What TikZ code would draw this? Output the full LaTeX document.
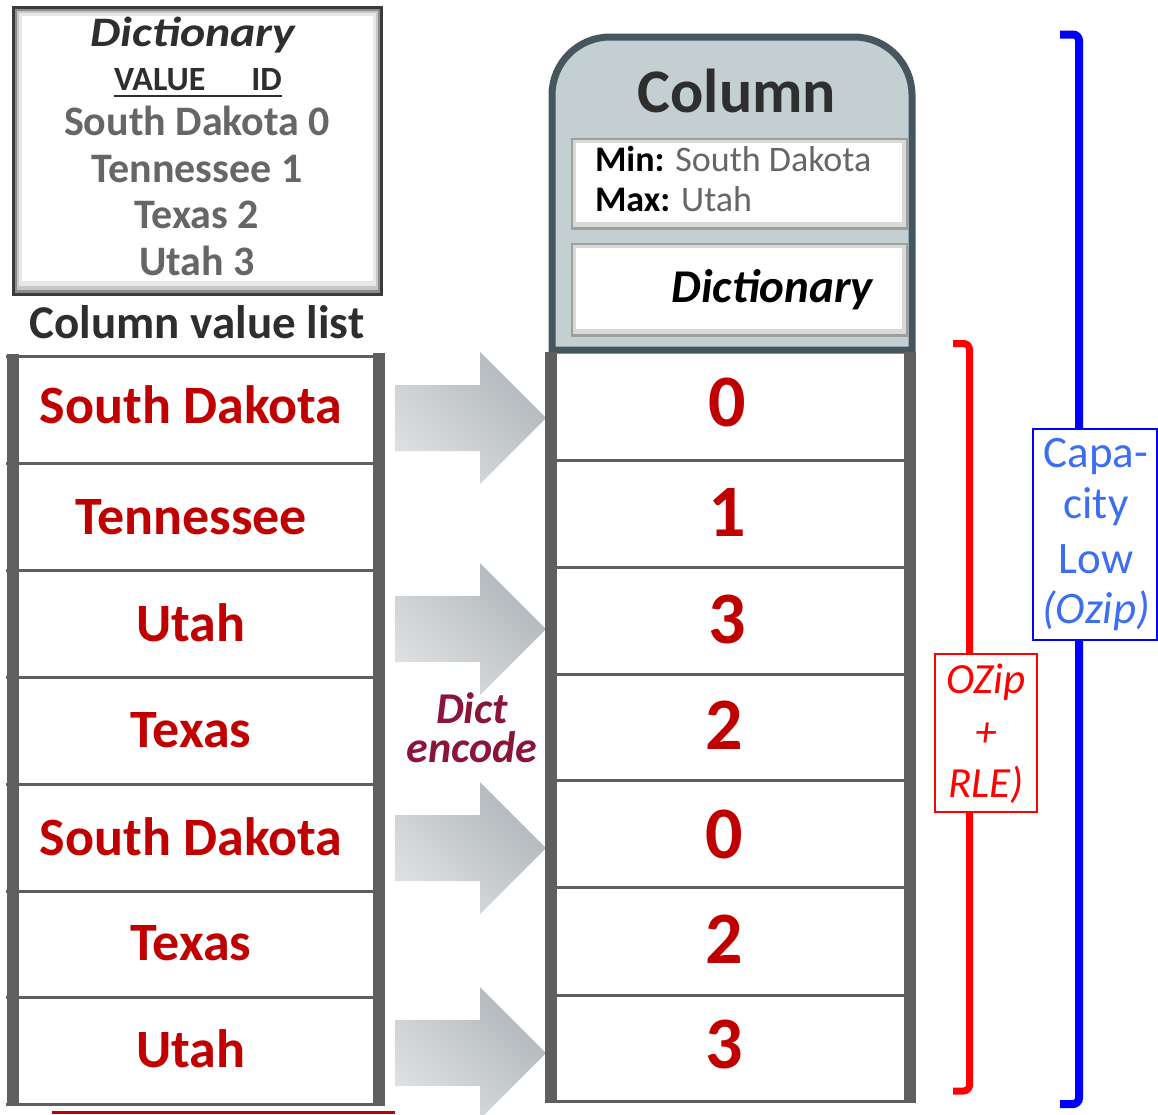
\documentclass[tikz,border=0pt]{standalone}
\usepackage{fontspec}
\setmainfont{Carlito}
\definecolor{barg}{HTML}{5F5F5F}
\definecolor{cellred}{HTML}{C00000}
\definecolor{dictgray}{HTML}{666666}
\definecolor{darktext}{HTML}{2E2E2E}
\definecolor{hdrfill}{HTML}{C4CFD2}
\definecolor{hdrline}{HTML}{46565E}
\definecolor{encred}{HTML}{8A1538}
\definecolor{capblue}{HTML}{3D6EF2}
\definecolor{arrowlight}{HTML}{DDE0E2}
\definecolor{arrowdark}{HTML}{B0B6BA}
\definecolor{boxedge}{HTML}{3B3B3B}
\begin{document}
\begin{tikzpicture}[x=1pt,y=-1pt,
  every node/.style={inner sep=0pt, outer sep=0pt},
  sepline/.style={draw=barg, line width=3pt},
  celltext/.style={anchor=base, text=cellred, font=\fontsize{54}{54}\selectfont\bfseries},
  numtext/.style={anchor=base, text=cellred, font=\fontsize{74}{74}\selectfont\bfseries},
  dicttext/.style={anchor=base, text=dictgray, font=\fontsize{42}{42}\selectfont\bfseries},
  enctext/.style={align=center, text=encred, font=\fontsize{44}{39}\selectfont\bfseries\itshape},
  oztext/.style={anchor=base, text=red, font=\fontsize{43}{43}\selectfont\itshape},
  captext/.style={anchor=base, text=capblue, font=\fontsize{45}{45}\selectfont},
  blockarrow/.style={top color=arrowdark, bottom color=arrowlight, shading angle=-45},
]
\useasboundingbox (0,0) rectangle (1158,1114);

% ---- dictionary panel (top left) ----
\fill[boxedge] (12,6) rectangle (383,296);
\fill[black!45] (15,9) rectangle (380,293);
\fill[black!22] (17,11) rectangle (378,290);
\fill[black!9] (19,13) rectangle (376,286);
\fill[white] (22,16) rectangle (373,281);
\node[anchor=base, text=darktext, font=\fontsize{42}{42}\selectfont\bfseries\itshape] (dtitle) at (193,46) {\scalebox{1.14}[1]{Dictionary}};
\node[anchor=base, text=darktext, font=\fontsize{34}{34}\selectfont\bfseries] (dhead) at (198,90) {VALUE\hspace{46pt}ID};
\draw[darktext, line width=2.5pt] (dhead.base west) ++(0,6) -- ([yshift=-6pt]dhead.base east);
\node[dicttext] (d0) at (197,135) {South Dakota 0};
\node[dicttext] (d1) at (197,182) {Tennessee 1};
\node[dicttext] (d2) at (197,228) {Texas 2};
\node[dicttext] (d3) at (197,275) {Utah 3};
\node[anchor=base, text=darktext, font=\fontsize{47}{47}\selectfont\bfseries] (cvl) at (197,338) {Column value list};

% ---- encoding arrows ----
\foreach \c in {418,629,848,1053}
  \shade[blockarrow] (395,\c-33) -- (480,\c-33) -- (480,\c-66) -- (546,\c)
    -- (480,\c+66) -- (480,\c+33) -- (395,\c+33) -- cycle;

% ---- column value list (left) ----
\foreach \y in {356.5,463.5,570.5,677.5,784.5,891.5,997.5,1104}
  \draw[sepline] (6,\y) -- (385,\y);
\fill[barg] (7,354) rectangle (19,1105.5);
\fill[barg] (373,353) rectangle (385,1105.5);
\node[celltext] (l1) at (191,423) {South Dakota};
\node[celltext] (l2) at (191,534) {Tennessee};
\node[celltext] (l3) at (191,641) {Utah};
\node[celltext] (l4) at (191,747) {Texas};
\node[celltext] (l5) at (191,855) {South Dakota};
\node[celltext] (l6) at (191,960) {Texas};
\node[celltext] (l7) at (191,1067) {Utah};
\draw[cellred, line width=3pt] (52,1112.5) -- (395,1112.5);

% ---- encoded column (right) ----
\path[fill=hdrfill, draw=hdrline, line width=7pt]
  (552,350) [rounded corners=58pt] -- (552,37) -- (912,37) [sharp corners] -- (912,350) -- cycle;
% min / max panel
\fill[black!38] (571,138) rectangle (908,230);
\fill[black!15] (573,140) rectangle (906,227);
\fill[white] (576,143) rectangle (902,222);
% dictionary panel
\fill[black!38] (571,243) rectangle (908,337);
\fill[black!15] (573,245) rectangle (906,334);
\fill[white] (576,248) rectangle (902,329);
\node[anchor=base, text=darktext, font=\fontsize{62}{62}\selectfont\bfseries] (ctitle) at (737,112) {Column};
\node[anchor=base west, font=\fontsize{36}{36}\selectfont] (cmin) at (595,171) {\textbf{Min:} \textcolor{dictgray}{South Dakota}};
\node[anchor=base west, font=\fontsize{36}{36}\selectfont] (cmax) at (595,211) {\textbf{Max:} \textcolor{dictgray}{Utah}};
\node[anchor=base east, font=\fontsize{47}{47}\selectfont\bfseries\itshape] (cdict) at (873,302) {Dictionary};

\foreach \y in {460.5,567.5,674.5,780.5,887.5,995,1101.5}
  \draw[sepline] (545,\y) -- (916,\y);
\fill[barg] (545,352) rectangle (557,1103);
\fill[barg] (904,352) rectangle (916,1103);
\node[numtext] (r1) at (727,426) {0};
\node[numtext] (r2) at (727,536) {1};
\node[numtext] (r3) at (727,643) {3};
\node[numtext] (r4) at (724,749) {2};
\node[numtext] (r5) at (724,858) {0};
\node[numtext] (r6) at (724,963) {2};
\node[numtext] (r7) at (724,1068) {3};

% ---- dictionary encoding label ----
\node[enctext] (enc) at (472,728) {Dict\\encode};

% ---- compression brackets ----
\draw[red, line width=7pt, rounded corners=6pt] (953,343.5) -- (969.5,343.5) -- (969.5,1091) -- (953,1091);
\node[draw=red, fill=white, line width=1.5pt, minimum width=102pt, minimum height=158pt] (ozbox) at (986,733) {};
\node[oztext] (oz1) at (986,693) {OZip};
\node[oztext] (oz2) at (986,746) {+};
\node[oztext] (oz3) at (986,797) {RLE)};

\draw[blue, line width=8pt, rounded corners=6pt] (1060,34.5) -- (1079,34.5) -- (1079,1104) -- (1060,1104);
\node[draw=blue, fill=white, line width=2pt, minimum width=124pt, minimum height=211pt] (capbox) at (1094.5,534.5) {};
\node[captext] (cap1) at (1096,467) {Capa-};
\node[captext] (cap2) at (1096,518) {city};
\node[captext] (cap3) at (1096,573) {Low};
\node[captext] (cap4) at (1096,623) {\itshape(Ozip)};
\end{tikzpicture}
\end{document}
